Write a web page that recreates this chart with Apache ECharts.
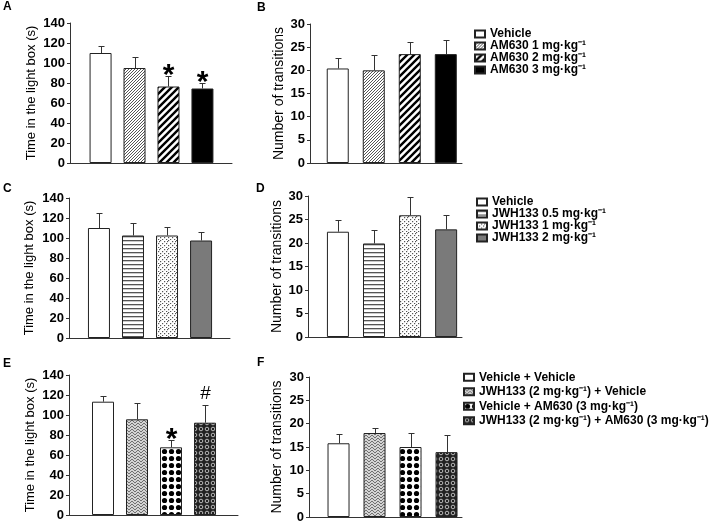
<!DOCTYPE html>
<html>
<head>
<meta charset="utf-8">
<script src="https://cdn.jsdelivr.net/npm/echarts@6/dist/echarts.min.js"></script>
<style>
  html, body { margin: 0; padding: 0; background: #fff; }
  #charts { width: 709px; height: 524px; }
</style>
</head>
<body>
<div id="charts"></div>
<script>
// groups
let groupsAM = ["Vehicle", "AM630 1 mg·kg⁻¹", "AM630 2 mg·kg⁻¹", "AM630 3 mg·kg⁻¹"];
let groupsJWH = ["Vehicle", "JWH133 0.5 mg·kg⁻¹", "JWH133 1 mg·kg⁻¹", "JWH133 2 mg·kg⁻¹"];
let groupsCombo = ["Vehicle + Vehicle", "JWH133 (2 mg·kg⁻¹) + Vehicle", "Vehicle + AM630 (3 mg·kg⁻¹)", "JWH133 (2 mg·kg⁻¹) + AM630 (3 mg·kg⁻¹)"];

// A / B
let timeAM = [110, 95, 76.5, 74.5];
let timeAMErr = [6.6, 11, 10.5, 5.6];
let timeAMSig = ["", "", "*", "*"];
let transAM = [20.4, 20.0, 23.5, 23.5];
let transAMErr = [2.2, 3.3, 2.7, 3.0];
// C / D
let timeJWH = [110, 102.5, 102.5, 97.5];
let timeJWHErr = [15, 12.3, 9, 8.5];
let transJWH = [22.4, 19.9, 25.9, 22.9];
let transJWHErr = [2.5, 2.8, 3.8, 3.0];
// E / F
let timeCombo = [113.3, 95.7, 67.7, 92.3];
let timeComboErr = [5.4, 16, 7.1, 18];
let timeComboSig = ["", "", "*", "#"];
let transCombo = [15.8, 18.0, 15.0, 13.9];
let transComboErr = [2.0, 1.1, 2.9, 3.7];

const ff = '"Liberation Sans", Arial, sans-serif';

function tile(w, h, draw) {
  let c = document.createElement("canvas");
  c.width = w;
  c.height = h;
  let ctx = c.getContext("2d");
  ctx.fillStyle = "#fff";
  ctx.fillRect(0, 0, w, h);
  draw(ctx, w, h);
  return { image: c, repeat: "repeat" };
}

// fill patterns
let fineHatch = tile(3, 3, (ctx) => {
  ctx.strokeStyle = "#555";
  ctx.lineWidth = 1;
  ctx.beginPath();
  ctx.moveTo(-1, 4); ctx.lineTo(4, -1);
  ctx.moveTo(-1, 1); ctx.lineTo(1, -1);
  ctx.moveTo(2, 4); ctx.lineTo(4, 2);
  ctx.stroke();
});
let boldHatch = tile(7, 7, (ctx) => {
  ctx.strokeStyle = "#000";
  ctx.lineWidth = 2.4;
  ctx.beginPath();
  ctx.moveTo(-1, 8); ctx.lineTo(8, -1);
  ctx.moveTo(-2, 2); ctx.lineTo(2, -2);
  ctx.moveTo(5, 9); ctx.lineTo(9, 5);
  ctx.stroke();
});
let hLines = tile(4, 4, (ctx) => {
  ctx.fillStyle = "#555";
  ctx.fillRect(0, 0, 4, 1.3);
});
let stipple = tile(8, 8, (ctx) => {
  ctx.fillStyle = "#555";
  [[0, 0], [4, 1], [2, 3], [6, 3], [0, 5], [4, 5], [2, 7], [6, 7], [7, 1]].forEach((p) => ctx.fillRect(p[0], p[1], 1.2, 1.2));
});
let weave = tile(6, 6, (ctx) => {
  ctx.fillStyle = "#d4d4d4";
  ctx.fillRect(0, 0, 6, 6);
  ctx.strokeStyle = "#707070";
  ctx.lineWidth = 1;
  ctx.beginPath();
  ctx.moveTo(0, 0); ctx.lineTo(3, 3); ctx.lineTo(6, 0);
  ctx.moveTo(0, 3); ctx.lineTo(3, 6); ctx.lineTo(6, 3);
  ctx.stroke();
});
let bigDots = tile(7, 7, (ctx) => {
  ctx.fillStyle = "#000";
  ctx.beginPath();
  ctx.arc(3.5, 3.5, 2.6, 0, Math.PI * 2);
  ctx.fill();
});
let rings = tile(6, 6, (ctx) => {
  ctx.fillStyle = "#222";
  ctx.fillRect(0, 0, 6, 6);
  ctx.strokeStyle = "#b8b8b8";
  ctx.lineWidth = 1;
  ctx.beginPath();
  ctx.arc(3, 3, 1.8, 0, Math.PI * 2);
  ctx.stroke();
});

let fillsAM = ["#fff", fineHatch, boldHatch, "#000"];
let fillsJWH = ["#fff", hLines, stipple, "#7a7a7a"];
let fillsCombo = ["#fff", weave, bigDots, rings];

let panels = [
  { grid: { left: 70, top: 23, width: 162, height: 140 }, xMin: 0.1, xMax: 4.87, yMax: 140, yStep: 20, name: "Time in the light box (s)", nameSize: 13, nameGap: 32,
    groups: groupsAM, fills: fillsAM, values: timeAM, errs: timeAMErr, sig: timeAMSig },
  { grid: { left: 310, top: 24, width: 152, height: 139 }, xMin: 0.23, xMax: 4.45, yMax: 30, yStep: 5, name: "Number of transitions", nameSize: 14, nameGap: 23,
    groups: groupsAM, fills: fillsAM, values: transAM, errs: transAMErr },
  { grid: { left: 69, top: 198, width: 161, height: 140 }, xMin: 0.12, xMax: 4.85, yMax: 140, yStep: 20, name: "Time in the light box (s)", nameSize: 13, nameGap: 33,
    groups: groupsJWH, fills: fillsJWH, values: timeJWH, errs: timeJWHErr },
  { grid: { left: 308, top: 196, width: 154, height: 141 }, xMin: 0.17, xMax: 4.44, yMax: 30, yStep: 5, name: "Number of transitions", nameSize: 14, nameGap: 24,
    groups: groupsJWH, fills: fillsJWH, values: transJWH, errs: transJWHErr },
  { grid: { left: 69, top: 375, width: 169, height: 140 }, xMin: 0, xMax: 4.97, yMax: 140, yStep: 20, name: "Time in the light box (s)", nameSize: 13, nameGap: 32,
    groups: groupsCombo, fills: fillsCombo, values: timeCombo, errs: timeComboErr, sig: timeComboSig },
  { grid: { left: 309, top: 377, width: 153, height: 140 }, xMin: 0.18, xMax: 4.43, yMax: 30, yStep: 5, name: "Number of transitions", nameSize: 14, nameGap: 25,
    groups: groupsCombo, fills: fillsCombo, values: transCombo, errs: transComboErr },
];

let letters = [
  { text: "A", left: 3, top: 1 },
  { text: "B", left: 257, top: 2 },
  { text: "C", left: 3, top: 183 },
  { text: "D", left: 256, top: 183 },
  { text: "E", left: 3, top: 358 },
  { text: "F", left: 257, top: 357 },
];

let chartDom = document.getElementById("charts");
let myChart = echarts.init(chartDom, null, { renderer: "canvas" });

let grids = [], xAxes = [], yAxes = [], series = [];
panels.forEach((p, k) => {
  grids.push(Object.assign({ containLabel: false }, p.grid));
  xAxes.push({
    type: "value", gridIndex: k, min: p.xMin, max: p.xMax,
    axisLine: { show: true, lineStyle: { color: "#333", width: 1 } },
    axisTick: { show: false }, axisLabel: { show: false }, splitLine: { show: false },
  });
  yAxes.push({
    type: "value", gridIndex: k, min: 0, max: p.yMax, interval: p.yStep,
    name: p.name, nameLocation: "middle", nameGap: p.nameGap,
    nameTextStyle: { fontFamily: ff, fontSize: p.nameSize, color: "#000" },
    axisLine: { show: true, lineStyle: { color: "#333", width: 1 } },
    axisTick: { show: true, inside: false, length: 3, lineStyle: { color: "#333" } },
    axisLabel: { margin: 5, fontFamily: ff, fontSize: 13, fontWeight: "bold", color: "#000" },
    splitLine: { show: false },
  });
  p.groups.forEach((g, i) => {
    series.push({
      name: g, type: "bar", xAxisIndex: k, yAxisIndex: k,
      barWidth: 22, barGap: "-100%",
      data: [[i + 1, p.values[i]]],
      itemStyle: { color: p.fills[i], borderColor: "#222", borderWidth: 1 },
      emphasis: { disabled: true },
    });
  });
  series.push({
    name: "err" + k, type: "custom", xAxisIndex: k, yAxisIndex: k, z: 5,
    data: p.values.map((v, i) => [i + 1, v, p.errs[i]]),
    encode: { x: 0, y: 1 },
    renderItem: function (params, api) {
      let x = api.value(0), v = api.value(1), e = api.value(2);
      let b = api.coord([x, v]), t = api.coord([x, v + e]);
      let cx = Math.round(b[0]) + 0.5, ty = Math.round(t[1]) + 0.5;
      let kids = [
        { type: "line", shape: { x1: cx, y1: b[1], x2: cx, y2: ty }, style: { stroke: "#333", lineWidth: 1 } },
        { type: "line", shape: { x1: cx - 3, y1: ty, x2: cx + 3, y2: ty }, style: { stroke: "#333", lineWidth: 1 } },
      ];
      let s = p.sig ? p.sig[params.dataIndex] : "";
      if (s) {
        kids.push({
          type: "text",
          style: {
            text: s, x: cx, y: ty - (s === "#" ? 12 : 1),
            align: "center", verticalAlign: "middle",
            font: s === "#" ? "19px " + ff : "bold 30px " + ff, fill: "#000",
          },
        });
      }
      return { type: "group", children: kids };
    },
  });
});

function legendFor(names, left, top, size, lh) {
  return {
    data: names, orient: "vertical", left: left, top: top, padding: 0,
    itemWidth: 10, itemHeight: 7, itemGap: 0, icon: "rect", selectedMode: false,
    textStyle: { fontFamily: ff, fontSize: size, fontWeight: "bold", color: "#000", lineHeight: lh },
  };
}

let option = {
  animation: false,
  backgroundColor: "#fff",
  title: letters.map((l) => ({
    text: l.text, left: l.left, top: l.top, padding: 0,
    textStyle: { fontFamily: ff, fontSize: 12, fontWeight: "bold", color: "#000" },
  })),
  legend: [
    legendFor(groupsAM, 474, 28, 12, 10),
    legendFor(groupsJWH, 476, 196, 12, 11),
    legendFor(groupsCombo, 463, 370, 12, 14.5),
  ],
  grid: grids,
  xAxis: xAxes,
  yAxis: yAxes,
  series: series,
};

option && myChart.setOption(option);
</script>
</body>
</html>
